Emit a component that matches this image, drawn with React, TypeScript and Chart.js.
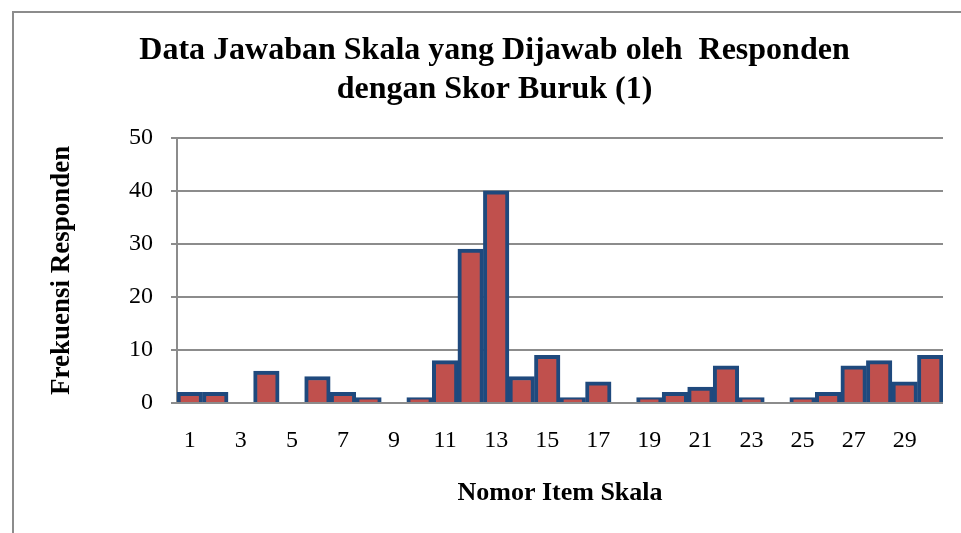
import React, { useEffect, useRef } from "react";
import { Chart, registerables } from "chart.js";

Chart.register(...registerables);

const categories: string[] = Array.from({ length: 30 }, (_, i) => String(i + 1));
const values: number[] = [2, 2, 0, 6, 0, 5, 2, 1, 0, 1, 8, 29, 40, 5, 9, 1, 4, 0, 1, 2, 3, 7, 1, 0, 1, 2, 7, 8, 4, 9];
const titleLines: string[] = ["Data Jawaban Skala yang Dijawab oleh  Responden", "dengan Skor Buruk (1)"];
const yTitle = "Frekuensi Responden";
const xTitle = "Nomor Item Skala";

const FONT = "'Liberation Serif', 'Times New Roman', serif";

export default function App() {
  const ref = useRef<HTMLCanvasElement>(null);
  useEffect(() => {
    document.body.style.margin = "0";
    const chart = new Chart(ref.current!, {
      type: "bar",
      data: {
        labels: categories,
        datasets: [
          {
            data: values,
            backgroundColor: "#C0504D",
            borderColor: "#1F497D",
            borderWidth: 4,
            barPercentage: 1,
            categoryPercentage: 1,
            borderSkipped: "bottom",
          },
        ],
      },
      options: {
        animation: false,
        responsive: false,
        layout: { padding: { left: 46, right: 18, top: 0, bottom: 18 } },
        plugins: {
          legend: { display: false },
          tooltip: { enabled: false },
          title: {
            display: true,
            text: titleLines,
            color: "#000",
            font: { family: FONT, size: 32, weight: "bold", lineHeight: 1.2 },
            padding: { top: 32, bottom: 29 },
          },
        },
        scales: {
          x: {
            grid: { display: false, drawTicks: false },
            border: { display: false },
            ticks: {
              color: "#000",
              font: { family: FONT, size: 24 },
              maxRotation: 0,
              autoSkip: false,
              padding: 23,
              callback: (_v: any, i: number) => (i % 2 === 0 ? categories[i] : ""),
            },
            title: {
              display: true,
              text: xTitle,
              color: "#000",
              font: { family: FONT, size: 26, weight: "bold" },
              padding: { top: 0, bottom: 6 },
            },
            afterFit: (s: any) => {
              s.height = 112;
            },
          },
          y: {
            min: 0,
            max: 50,
            ticks: {
              stepSize: 10,
              color: "#000",
              font: { family: FONT, size: 24 },
              padding: 18,
            },
            grid: { color: "#8c8c8c", lineWidth: 2, tickLength: 6, drawTicks: true },
            border: { display: true, color: "#8c8c8c", width: 2 },
            title: {
              display: true,
              text: yTitle,
              color: "#000",
              font: { family: FONT, size: 27, weight: "bold" },
              padding: { top: 0, bottom: 0 },
            },
            afterFit: (s: any) => {
              s.width = 131;
            },
          },
        },
      },
    });
    return () => chart.destroy();
  }, []);
  return (
    <div style={{ position: "relative", width: 961, height: 533, background: "#fff", overflow: "hidden" }}>
      <div
        style={{
          position: "absolute",
          left: 12,
          top: 11,
          width: 1000,
          height: 600,
          borderLeft: "2px solid #8c8c8c",
          borderTop: "2px solid #8c8c8c",
        }}
      />
      <canvas ref={ref} width={961} height={533} style={{ position: "absolute", left: 0, top: 0 }} />
    </div>
  );
}
